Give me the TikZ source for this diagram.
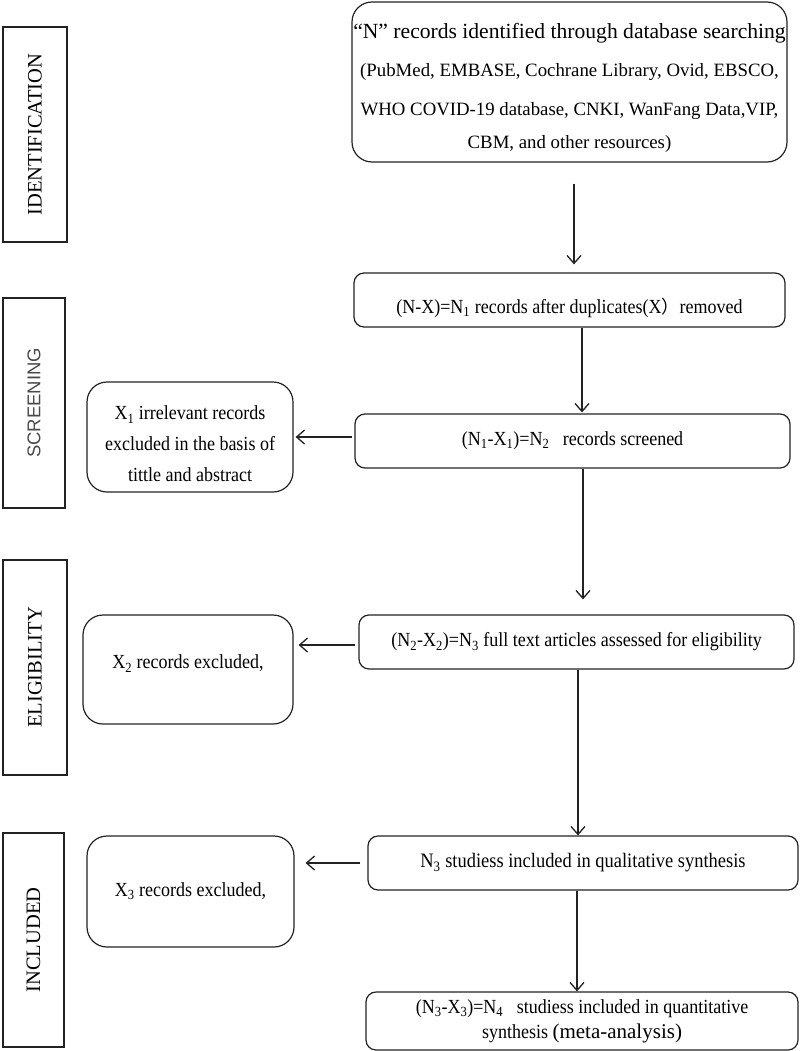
\documentclass[tikz,border=0pt]{standalone}
\usepackage{fontspec}
\setmainfont{Liberation Serif}
\setsansfont{Liberation Sans}
\newfontfamily\cnd[FakeStretch=0.9]{Liberation Serif}
\newfontfamily\cjk{Noto Sans CJK SC}
\usetikzlibrary{arrows.meta}
\definecolor{labgray}{HTML}{4A4A4A}
\definecolor{edge}{HTML}{222222}
\begin{document}
\begin{tikzpicture}[x=1pt,y=-1pt,
  box/.style={draw=edge, line width=1.2pt, rounded corners=10pt, inner sep=0pt, align=center,
    font=\cnd\fontsize{20}{31}\selectfont},
  sidebox/.style={draw=edge, line width=1.2pt, rounded corners=20pt, inner sep=0pt, align=center,
    font=\cnd\fontsize{20}{31}\selectfont},
  lab/.style={draw=edge, line width=1.5pt, inner sep=0pt, rotate=90,
    font=\fontsize{20.5}{24}\selectfont},
  arr/.style={-{Straight Barb[length=8pt,width=14pt,line width=1.3pt]}, line width=1.3pt, draw=edge}]
\useasboundingbox (0,0) rectangle (800,1051);

% phase labels
\node[lab, minimum width=215pt, minimum height=64pt] (id) at (35,134.5) {IDENTIFICATION};
\node[lab, minimum width=210pt, minimum height=62pt, font=\sffamily\fontsize{18.5}{22}\selectfont, text=labgray] (scr) at (34,403) {SCREENING\hspace{12pt}};
\node[lab, minimum width=215pt, minimum height=64pt] (eli) at (35,667.5) {ELIGIBILITY\hspace{17pt}};
\node[lab, minimum width=214pt, minimum height=61pt] (inc) at (33.5,940) {INCLUDED\hspace{4pt}};

% main column
\node[box, rounded corners=20pt, minimum width=435pt, minimum height=160pt,
  font=\fontsize{18.8}{38.5}\selectfont] (A) at (569.5,82)
  {\rule{0pt}{27pt}{\fontsize{21.6}{38.5}\selectfont “N” records identified through database searching}\\
  (PubMed, EMBASE, Cochrane Library, Ovid, EBSCO,\\
  WHO COVID-19 database, CNKI, WanFang Data,VIP,\\[-5.5pt]
  CBM, and other resources)};
\node[box, minimum width=431pt, minimum height=54pt] (B) at (569.5,300)
  {\raisebox{-8pt}[\height][\depth]{(N-X)=N\textsubscript{1} records after duplicates(X{\cjk\fontsize{18}{20}\selectfont ）}removed}};
\node[box, minimum width=435pt, minimum height=54pt] (C) at (572.5,441)
  {(N\textsubscript{1}-X\textsubscript{1})=N\textsubscript{2}\ \ \ records screened};
\node[box, minimum width=435pt, minimum height=54pt] (D) at (576.5,642)
  {(N\textsubscript{2}-X\textsubscript{2})=N\textsubscript{3} full text articles assessed for eligibility};
\node[box, minimum width=430pt, minimum height=54pt, font=\cnd\fontsize{20.5}{31}\selectfont] (E) at (583,863)
  {N\textsubscript{3} studiess included in qualitative synthesis};
\node[box, minimum width=432pt, minimum height=58pt, font=\cnd\fontsize{20}{25}\selectfont] (F) at (582,1021)
  {(N\textsubscript{3}-X\textsubscript{3})=N\textsubscript{4}\ \ \ studiess included in quantitative\\
   synthesis {\normalfont\fontsize{21}{25}\selectfont(meta-analysis)}};

% exclusion boxes
\node[sidebox, minimum width=206pt, minimum height=110pt] (G) at (190,437)
  {\rule{0pt}{28pt}X\textsubscript{1} irrelevant records\\ excluded in the basis of\\ tittle and abstract};
\node[sidebox, minimum width=210pt, minimum height=109pt] (H) at (188,669.5)
  {\raisebox{6pt}[\height][\depth]{X\textsubscript{2} records excluded,}};
\node[sidebox, minimum width=207pt, minimum height=111pt] (I) at (190.5,891.5)
  {X\textsubscript{3} records excluded,};

% arrows
\draw[arr] ([xshift=4.5pt,yshift=-21pt]A.south) -- ([xshift=4.5pt,yshift=8pt]B.north);
\draw[arr] ([xshift=12.5pt]B.south) -- ([xshift=9.5pt,yshift=1pt]C.north);
\draw[arr] ([xshift=10.5pt]C.south) -- ([xshift=6.5pt,yshift=15pt]D.north);
\draw[arr] ([xshift=1.5pt]D.south) -- ([xshift=-5pt]E.north);
\draw[arr] ([xshift=-6pt]E.south) -- ([xshift=-5pt]F.north);
\draw[arr] ([xshift=-2pt,yshift=4pt]C.west) -- ([xshift=2pt]G.east);
\draw[arr] ([xshift=-3pt,yshift=-3pt]D.west) -- ([xshift=5pt,yshift=24.5pt]H.east);
\draw[arr] ([xshift=-7pt]E.west) -- ([xshift=11pt,yshift=28.5pt]I.east);
\end{tikzpicture}
\end{document}
